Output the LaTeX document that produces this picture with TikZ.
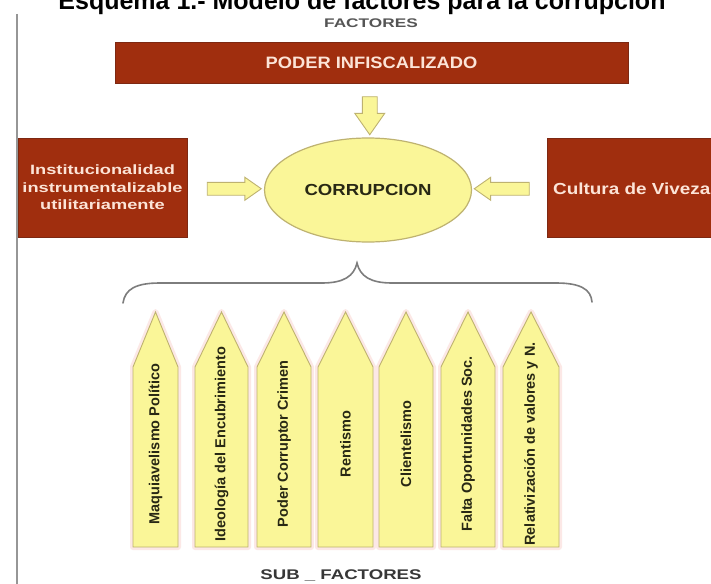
\documentclass[tikz,border=0pt]{standalone}
\usepackage{fontspec}
\setmainfont{Liberation Sans}
\usepackage{graphicx}
\usetikzlibrary{shapes.geometric,shapes.arrows,calc}
\definecolor{boxred}{RGB}{160,46,14}
\definecolor{boxedge}{RGB}{125,40,18}
\definecolor{boxtext}{RGB}{252,228,215}
\definecolor{yfill}{RGB}{250,246,152}
\definecolor{yedge}{RGB}{190,178,112}
\definecolor{darktext}{RGB}{40,40,20}
\definecolor{labgray}{RGB}{85,85,85}
\definecolor{subgray}{RGB}{55,55,55}
\definecolor{bracegray}{RGB}{125,125,125}
\definecolor{halo}{RGB}{252,232,230}
\definecolor{rulegray}{RGB}{150,150,150}
\newcommand{\hs}[2]{\scalebox{#1}[1]{#2}}
\newcommand{\fsz}[2]{\fontsize{#1}{#2}\selectfont}
\begin{document}
\begin{tikzpicture}[x=1pt,y=-1pt,
  redbox/.style={fill=boxred, draw=boxedge, line width=0.8pt, text=boxtext, inner sep=0pt},
  blockarrow/.style={single arrow, fill=yfill, draw=yedge, line width=0.9pt,
     inner xsep=0pt, single arrow tip angle=70},
  pencilhalo/.style={draw=halo, line width=6pt, line join=round},
  pencil/.style={fill=yfill, draw=yedge, line width=0.9pt},
  pentext/.style={text=darktext, font=\bfseries\fsz{14.5}{16}, inner sep=0pt},
  bracestyle/.style={draw=bracegray, line width=1.6pt, line cap=round}]
\useasboundingbox (0,0) rectangle (711,583);
\clip (0,0) rectangle (711,583);
\fill[white] (0,0) rectangle (711,583);

% title and left rule
\node[anchor=base, font=\bfseries\fsz{25}{28}, inner sep=0pt] (title) at (362,10)
  {Esquema 1.- Modelo de factores para la corrupción};
\draw[rulegray, line width=2.5pt] (17,14) -- (17,590);

\node[font=\bfseries\fsz{12.5}{15}, text=labgray, inner sep=0pt] (factores) at (371,23)
  {\hs{1.38}{FACTORES}};

% boxes
\node[redbox, minimum width=513pt, minimum height=41pt, font=\bfseries\fsz{16.5}{18}] (top) at (371.5,62.5)
  {\hs{1.11}{PODER INFISCALIZADO}};
\node[redbox, minimum width=169pt, minimum height=99pt, align=center, font=\bfseries\fsz{13.5}{17.5}] (inst) at (102.5,187.5)
  {\hs{1.35}{Institucionalidad}\\\hs{1.35}{instrumentalizable}\\\hs{1.35}{utilitariamente}};
\node[redbox, minimum width=260pt, minimum height=99pt] (cult) at (677,187.5) {};
\node[anchor=west, text=boxtext, font=\bfseries\fsz{16}{18}, inner sep=0pt] (cultlabel) at (553,189)
  {\hs{1.18}{Cultura de Viveza}};

% central ellipse
\node[ellipse, fill=yfill, draw=yedge, line width=1.2pt, minimum width=207pt, minimum height=104pt,
  inner sep=0pt, text=darktext, font=\bfseries\fsz{16}{18}] (corr) at (368,190)
  {\hs{1.16}{CORRUPCION}};

% block arrows
\node[blockarrow, inner ysep=7pt, single arrow head extend=7.5pt, minimum height=38pt, rotate=-90]
  (adown) at ($(top.south)!0.5!(corr.north)$) {};
\node[blockarrow, inner ysep=6pt, single arrow head extend=5pt, minimum height=54pt]
  (aright) at ($(inst.east)!0.5!(corr.west)+(4,0)$) {};
\node[blockarrow, inner ysep=6pt, single arrow head extend=5pt, minimum height=55pt, rotate=180]
  (aleft) at ($(corr.east)!0.5!(cult.west)+(-3,0)$) {};

% brace
\coordinate (bracetip) at (357,263);
\draw[bracestyle] (123,303) .. controls (125,289) and (136,283) .. (160,283)
  -- (322,283) .. controls (344,283) and (354,276) .. (bracetip)
  .. controls (360,276) and (370,283) .. (392,283)
  -- (556,283) .. controls (580,283) and (591,289) .. (592,302);

% pencils
\foreach \l/\r/\t [count=\i] in {
  133/178/{Maquiavelismo Político},
  195/248/{Ideología del Encubrimiento},
  257/311/{Poder Corruptor Crimen},
  318/373/{Rentismo},
  379/433/{Clientelismo},
  441/495/{Falta Oportunidades Soc.},
  503/559/{Relativización de valores y N.}}{
  \pgfmathsetmacro\cx{(\l+\r)/2}
  \draw[pencilhalo] (\l,547) -- (\l,367) -- (\cx,312) -- (\r,367) -- (\r,547) -- cycle;
  \draw[pencil] (\l,547) -- (\l,367) -- (\cx,312) -- (\r,367) -- (\r,547) -- cycle;
  \node[pentext, rotate=90] (p\i) at (\cx,444) {\t};
}

\node[font=\bfseries\fsz{14}{16}, text=subgray, inner sep=0pt] (subfact) at (341,575)
  {\hs{1.33}{SUB \_ FACTORES}};
\end{tikzpicture}
\end{document}
